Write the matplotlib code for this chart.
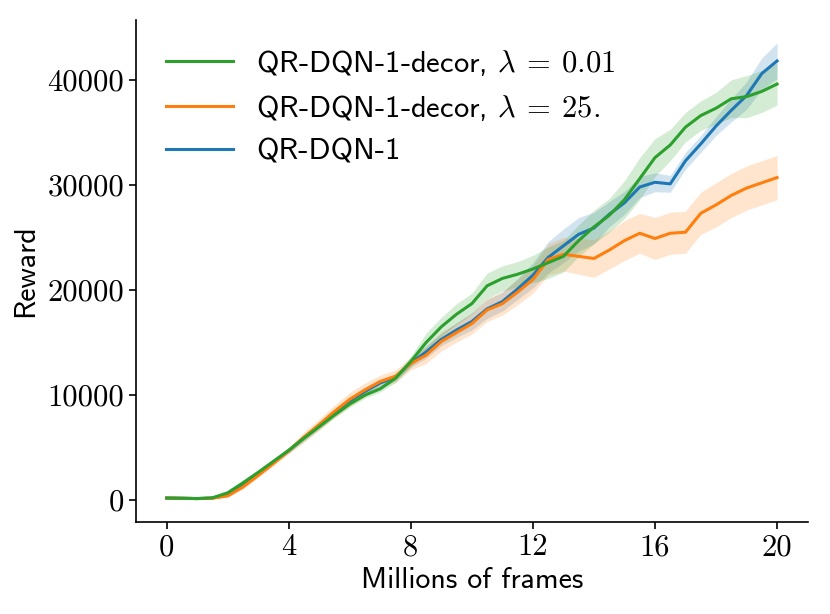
import numpy as np
import matplotlib
matplotlib.use("Agg")
import matplotlib.pyplot as plt

# frames in millions
frames = [0, 0.5, 1.0, 1.5, 2.0, 2.5, 3.0, 3.5, 4.0, 4.5, 5.0, 5.5, 6.0, 6.5, 7.0, 7.5,
          8.0, 8.5, 9.0, 9.5, 10.0, 10.5, 11.0, 11.5, 12.0, 12.5, 13.0, 13.5, 14.0, 14.5,
          15.0, 15.5, 16.0, 16.5, 17.0, 17.5, 18.0, 18.5, 19.0, 19.5, 20.0]

# mean reward per run
decor_001 = [200, 180, 150, 220, 700, 1650, 2650, 3700, 4750, 5900, 7000, 8100, 9150, 10000,
             10600, 11600, 13200, 15000, 16500, 17700, 18700, 20400, 21100, 21500, 22000,
             22600, 23200, 24700, 26000, 27100, 28600, 30600, 32600, 33800, 35500, 36600,
             37300, 38200, 38400, 38900, 39600]
decor_25 = [200, 180, 150, 180, 400, 1250, 2350, 3500, 4700, 6000, 7200, 8450, 9600, 10500,
            11300, 11800, 13000, 13800, 15100, 15950, 16800, 18100, 18700, 19800, 21000,
            22900, 23400, 23200, 23000, 23800, 24700, 25400, 24900, 25400, 25500, 27300,
            28100, 29000, 29700, 30200, 30700]
qrdqn = [200, 180, 150, 200, 550, 1450, 2500, 3600, 4700, 5950, 7100, 8300, 9450, 10350,
         11150, 11700, 13050, 14100, 15300, 16200, 17000, 18200, 18900, 20100, 21400, 23100,
         24200, 25300, 25900, 27200, 28300, 29800, 30250, 30100, 32300, 33900, 35600, 37100,
         38500, 40600, 41800]

# half width of the shaded band
decor_001_spread = [50, 50, 50, 50, 80, 150, 150, 150, 200, 250, 250, 250, 300, 300, 300, 400,
                    500, 900, 900, 1000, 1000, 1200, 1200, 1200, 1300, 1500, 1500, 1500, 1600,
                    1600, 1800, 2000, 1800, 1500, 1400, 1400, 1500, 1800, 2000, 2000, 2000]
decor_25_spread = [50, 50, 50, 50, 100, 200, 200, 250, 300, 500, 550, 600, 650, 650, 600, 600,
                   600, 800, 900, 900, 1000, 1100, 1100, 1200, 1300, 1500, 1600, 1700, 1800,
                   1800, 1900, 1900, 2000, 2000, 2000, 2000, 2100, 2100, 2100, 2100, 2100]
qrdqn_spread = [50, 50, 50, 50, 80, 150, 150, 150, 200, 300, 300, 300, 300, 300, 300, 300,
                400, 600, 600, 700, 800, 900, 900, 1000, 1200, 1500, 1600, 1600, 1500, 1200,
                1100, 1000, 900, 800, 800, 800, 900, 1100, 1300, 1500, 1700]

labels = [r"QR-DQN-1-decor, $\lambda\:=\:0.01$",
          r"QR-DQN-1-decor, $\lambda\:=\:25.$",
          "QR-DQN-1"]
colors = ["#2ca02c", "#ff7f0e", "#1f77b4"]

plt.rcParams["font.family"] = "cmss10"
plt.rcParams["mathtext.fontset"] = "cm"
plt.rcParams["axes.unicode_minus"] = False

fig = plt.figure(figsize=(8.3, 6.14), dpi=100)
ax = fig.add_axes([0.164, 0.150, 0.809, 0.817])

x = np.array(frames)
series = [(decor_001, decor_001_spread), (decor_25, decor_25_spread), (qrdqn, qrdqn_spread)]
# draw blue first so green sits on top like the original
order = [2, 1, 0]
for i in order:
    mean, spread = np.array(series[i][0]), np.array(series[i][1])
    ax.fill_between(x, mean - spread, mean + spread, color=colors[i], alpha=0.2, linewidth=0)
    ax.plot(x, mean, color=colors[i], linewidth=2.2, label=labels[i])

handles, labs = ax.get_legend_handles_labels()
h = dict(zip(labs, handles))
ax.legend([h[l] for l in labels], labels, loc="upper left", frameon=False, fontsize=22,
          handlelength=2.2, handletextpad=0.75, borderaxespad=0.5, labelspacing=0.5,
          bbox_to_anchor=(0.003, 1.0))

ax.set_xticks([0, 4, 8, 12, 16, 20])
ax.set_yticks([0, 10000, 20000, 30000, 40000])
for lbl in ax.get_xticklabels() + ax.get_yticklabels():
    lbl.set_fontfamily("cmr10")
    lbl.set_fontsize(22)

ax.set_xlabel("Millions of frames", fontsize=21.5, labelpad=4)
ax.set_ylabel("Reward", fontsize=21.5, labelpad=6)
ax.spines["top"].set_visible(False)
ax.spines["right"].set_visible(False)
for s in ["left", "bottom"]:
    ax.spines[s].set_linewidth(1.2)
ax.tick_params(width=1.2, length=5)

fig.savefig("out.png", dpi=100)
